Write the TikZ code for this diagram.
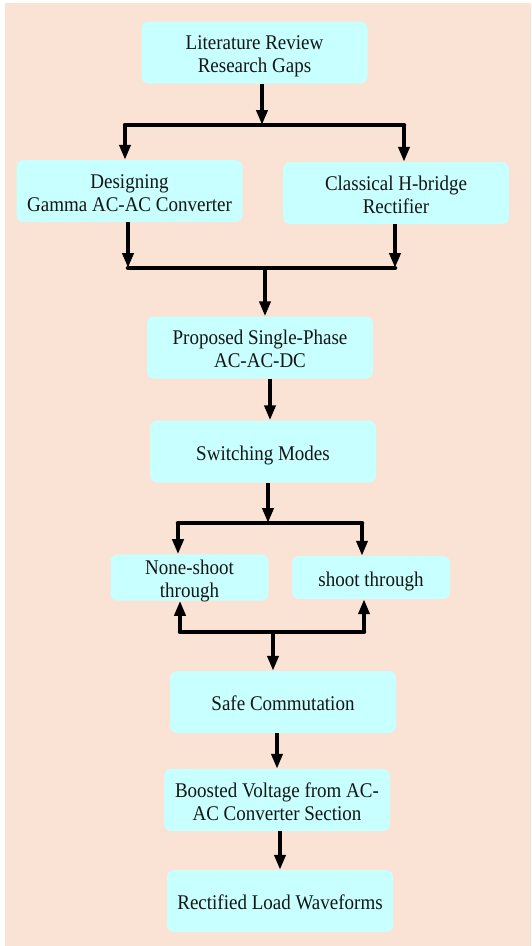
\documentclass[tikz,border=0pt]{standalone}
\usepackage{fontspec}
\usepackage{graphicx}
\setmainfont{Liberation Serif}
\usetikzlibrary{arrows.meta}
\definecolor{peach}{HTML}{FAE3D4}
\definecolor{boxc}{HTML}{C8FFFF}
\definecolor{txt}{HTML}{151515}
\newcommand{\boxtxt}[1]{\raisebox{-4pt}[\height][\depth]{\scalebox{1}[1.1]{\begin{tabular}{@{}c@{}}#1\end{tabular}}}}
\begin{document}
\begin{tikzpicture}[x=1pt,y=-1pt,
  box/.style={fill=boxc, rounded corners=7pt, align=center, inner sep=0pt,
    text=txt, font=\fontsize{19}{21}\selectfont},
  wide/.style={minimum width=226pt, minimum height=62pt},
  small/.style={minimum width=158pt, minimum height=43pt},
  arr/.style={line width=4pt, -{Triangle[length=15pt,width=11pt]}},
  bar/.style={line width=4.5pt, line cap=round}]
\useasboundingbox (0,0) rectangle (531,946);
\fill[peach] (5,3) rectangle (531,946);

\node[box, wide] (lit)   at (254.5,52.5) {\boxtxt{Literature Review\\Research Gaps}};
\node[box, wide] (des)   at (129.5,191)  {\boxtxt{Designing\\Gamma AC-AC Converter}};
\node[box, wide] (cls)   at (396,193)    {\boxtxt{Classical H-bridge\\Rectifier}};
\node[box, wide] (prop)  at (260,347.5)  {\boxtxt{Proposed Single-Phase\\AC-AC-DC}};
\node[box, wide] (sw)    at (263,451.5)  {\boxtxt{Switching Modes}};
\node[box, small] (ns)   at (189.5,577.5) {\boxtxt{None-shoot\\through}};
\node[box, small] (st)   at (371,577.5)  {\boxtxt{shoot through}};
\node[box, wide] (safe)  at (283,702)    {\boxtxt{Safe Commutation}};
\node[box, wide] (boost) at (277,800)    {\boxtxt{Boosted Voltage from AC-\\AC Converter Section}};
\node[box, wide] (rect)  at (280,901)    {\boxtxt{Rectified Load Waveforms}};

% lit -> split
\coordinate (j1)  at (262,125);
\coordinate (j1l) at (125,125);
\coordinate (j1r) at (404,125);
\draw[arr] (lit.south -| j1) -- (j1);
\draw[bar] (j1l) -- (j1r);
\draw[arr] (j1l) -- (des.north -| j1l);
\draw[arr] (j1r) -- (cls.north -| j1r);

% merge -> prop
\coordinate (j2l) at (128,268);
\coordinate (j2r) at (395,268);
\coordinate (j2)  at (265,268);
\draw[arr] (des.south -| j2l) -- (j2l);
\draw[arr] (cls.south -| j2r) -- (j2r);
\draw[bar] (j2l) -- (j2r);
\draw[arr] (j2) -- (prop.north -| j2);

% prop -> sw
\coordinate (x3) at (270,0);
\draw[arr] (prop.south -| x3) -- (sw.north -| x3);

% sw -> split
\coordinate (j4)  at (268,523);
\coordinate (j4l) at (178,523);
\coordinate (j4r) at (362,523);
\draw[arr] (sw.south -| j4) -- (j4);
\draw[bar] (j4l) -- (j4r);
\draw[arr] (j4l) -- (ns.north -| j4l);
\draw[arr] (j4r) -- (st.north -| j4r);

% merge below -> safe
\coordinate (j5)  at (273,632);
\coordinate (j5l) at (180,632);
\coordinate (j5r) at (364,632);
\draw[bar] (j5l) -- (j5r);
\draw[arr] (j5l) -- (ns.south -| j5l);
\draw[arr] (j5r) -- (st.south -| j5r);
\draw[arr] (j5) -- (safe.north -| j5);

% safe -> boost -> rect
\coordinate (x6) at (277,0);
\coordinate (x7) at (280,0);
\draw[arr] (safe.south -| x6) -- (boost.north -| x6);
\draw[arr] (boost.south -| x7) -- (rect.north -| x7);
\end{tikzpicture}
\end{document}
